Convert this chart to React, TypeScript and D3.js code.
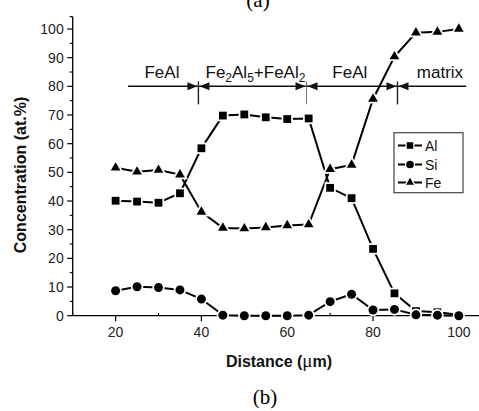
import React from "react";
import * as d3 from "d3";

const distance = [20, 25, 30, 35, 40, 45, 50, 55, 60, 65, 70, 75, 80, 85, 90, 95, 100];
const alValues = [40.1, 39.8, 39.4, 42.7, 58.4, 69.8, 70.2, 69.2, 68.6, 68.8, 44.6, 41.0, 23.3, 7.8, 1.6, 1.2, 0.3];
const siValues = [8.7, 10.1, 9.8, 9.0, 5.8, 0.2, 0.0, 0.0, 0.0, 0.2, 4.9, 7.5, 2.0, 2.2, 0.3, 0.2, 0.0];
const feValues = [51.6, 50.2, 50.8, 49.2, 36.2, 30.6, 30.4, 30.8, 31.5, 31.8, 51.1, 52.6, 75.6, 90.4, 98.7, 99.0, 100.0];

const xTicks = [20, 40, 60, 80, 100];
const xMinor = [10, 30, 50, 70, 90];
const yTicks = [0, 10, 20, 30, 40, 50, 60, 70, 80, 90, 100];
const yMinor = [5, 15, 25, 35, 45, 55, 65, 75, 85, 95];

const phaseLabels = ["FeAl", "Fe2Al5+FeAl2", "FeAl", "matrix"];
const phaseEdges = [22.9, 39.3, 64.5, 85.7, 101.7];
const phaseLabelX = [30.8, 52.6, 74.6, 95.6];
const arrowLevel = 80;
const labelLevel = 83;

const legendNames = ["Al", "Si", "Fe"];

const W = 479;
const H = 411;
const SANS = "'Liberation Sans', Arial, sans-serif";
const SERIF = "'Liberation Serif', 'Times New Roman', serif";

function markerPath(kind: string, cx: number, cy: number, s: number): string {
  if (kind === "square") {
    const h = s / 2;
    return `M${cx - h},${cy - h}h${s}v${s}h${-s}Z`;
  }
  if (kind === "circle") {
    const r = s / 2 + 0.6;
    return `M${cx - r},${cy}a${r},${r} 0 1,0 ${2 * r},0a${r},${r} 0 1,0 ${-2 * r},0Z`;
  }
  const side = s * 1.25;
  const ht = side * Math.sqrt(3) / 2;
  return `M${cx},${cy - ht * 2 / 3}L${cx + side / 2},${cy + ht / 3}L${cx - side / 2},${cy + ht / 3}Z`;
}

export default function App() {
  const x = d3.scaleLinear().domain([10, 104.7]).range([72.7, 479]);
  const yv = d3.scaleLinear().domain([0, 100]).range([315.7, 315.7 - 286.7]);
  const series = [
    { name: "Al", kind: "square", values: alValues },
    { name: "Si", kind: "circle", values: siValues },
    { name: "Fe", kind: "triangle", values: feValues },
  ];
  const line = d3
    .line<[number, number]>()
    .x((d) => x(d[0]))
    .y((d) => yv(d[1]));
  const x0 = x(10);
  const yBase = yv(0);
  const yTop = yv(104.3);
  const ay = yv(arrowLevel);

  const arrowHead = (tipX: number, dir: number) => {
    const L = 10;
    const hw = 4;
    return `M${tipX},${ay}L${tipX - dir * L},${ay - hw}L${tipX - dir * L},${ay + hw}Z`;
  };

  const legX = 394;
  const legY = 132.7;
  const legW = 69;
  const legH = 60;
  const legRows = [145.5, 164.5, 182.5];

  return (
    <svg
      width={W}
      height={H}
      style={{ position: "absolute", left: 0, top: 0, background: "#fff" }}
      xmlns="http://www.w3.org/2000/svg"
    >
      <rect x={0} y={0} width={W} height={H} fill="#fff" />
      {/* (a) caption of the panel above, cut at the top edge as in the source */}
      <text x={258} y={7} fontFamily={SERIF} fontSize={21} textAnchor="middle" fill="#000">
        (a)
      </text>

      {/* axes */}
      <line x1={x0} x2={W} y1={yBase} y2={yBase} stroke="#000" strokeWidth={1.3} />
      <line x1={x0} x2={x0} y1={yBase} y2={yTop} stroke="#000" strokeWidth={1.3} />
      <line x1={x0 - 3} x2={x0} y1={yTop} y2={yTop} stroke="#000" strokeWidth={1.2} />
      {yTicks.map((t) => (
        <g key={"yt" + t}>
          <line x1={x0 - 5.5} x2={x0} y1={yv(t)} y2={yv(t)} stroke="#000" strokeWidth={1.2} />
          <text
            x={x0 - 9}
            y={yv(t) + 5}
            fontFamily={SANS}
            fontSize={14}
            textAnchor="end"
            fill="#222"
          >
            {t}
          </text>
        </g>
      ))}
      {yMinor.map((t) => (
        <line key={"ym" + t} x1={x0 - 3} x2={x0} y1={yv(t)} y2={yv(t)} stroke="#000" strokeWidth={1.1} />
      ))}
      {xTicks.map((t) => (
        <g key={"xt" + t}>
          <line x1={x(t)} x2={x(t)} y1={yBase} y2={yBase + 5.5} stroke="#000" strokeWidth={1.2} />
          <text
            x={x(t)}
            y={yBase + 21}
            fontFamily={SANS}
            fontSize={14}
            textAnchor="middle"
            fill="#222"
          >
            {t}
          </text>
        </g>
      ))}
      {xMinor.map((t) => (
        <line key={"xm" + t} x1={x(t)} x2={x(t)} y1={yBase} y2={yBase - 3} stroke="#000" strokeWidth={1.1} />
      ))}

      {/* axis titles */}
      <text x={279} y={367} fontFamily={SANS} fontSize={16} fontWeight="bold" textAnchor="middle" fill="#111">
        Distance (
        <tspan fontFamily={SERIF} fontWeight="normal" fontSize={19}>
          μ
        </tspan>
        m)
      </text>
      <text
        transform={`translate(26,${175}) rotate(-90)`}
        fontFamily={SANS}
        fontSize={16}
        fontWeight="bold"
        textAnchor="middle"
        fill="#111"
      >
        Concentration (at.%)
      </text>
      <text x={265} y={404} fontFamily={SERIF} fontSize={21} textAnchor="middle" fill="#000">
        (b)
      </text>

      {/* phase annotations */}
      <g stroke="#111" fill="#111">
        {phaseLabels.map((lab, i) => {
          const a = x(phaseEdges[i]);
          const b = x(phaseEdges[i + 1]);
          const leftHead = i > 0;
          const rightHead = i < phaseLabels.length - 1;
          return (
            <g key={"ph" + i}>
              <line x1={a} x2={b} y1={ay} y2={ay} strokeWidth={1.5} />
              {leftHead && <path d={arrowHead(a + 1, -1)} stroke="none" />}
              {rightHead && <path d={arrowHead(b - 1, 1)} stroke="none" />}
            </g>
          );
        })}
        {phaseEdges.slice(1, -1).map((e, i) => (
          <line
            key={"sep" + i}
            x1={x(e)}
            x2={x(e)}
            y1={yv(arrowLevel + 1.7)}
            y2={yv(arrowLevel - 6.3)}
            strokeWidth={i === 1 ? 0.9 : 1.4}
            stroke={i === 1 ? "#666" : "#222"}
          />
        ))}
      </g>
      <g fontFamily={SANS} fontSize={17} fill="#111" textAnchor="middle">
        <text x={x(phaseLabelX[0])} y={yv(labelLevel)}>
          {phaseLabels[0]}
        </text>
        <text x={x(phaseLabelX[1])} y={yv(labelLevel)}>
          Fe<tspan fontSize={12} dy={4}>2</tspan>
          <tspan dy={-4}>Al</tspan>
          <tspan fontSize={12} dy={4}>5</tspan>
          <tspan dy={-4}>+FeAl</tspan>
          <tspan fontSize={12} dy={4}>2</tspan>
        </text>
        <text x={x(phaseLabelX[2])} y={yv(labelLevel)}>
          {phaseLabels[2]}
        </text>
        <text x={x(phaseLabelX[3])} y={yv(labelLevel)}>
          {phaseLabels[3]}
        </text>
      </g>

      {/* data series */}
      {series.map((s) => (
        <path
          key={"ln" + s.name}
          d={line(distance.map((d, i) => [d, s.values[i]] as [number, number])) || ""}
          fill="none"
          stroke="#000"
          strokeWidth={2}
        />
      ))}
      {series.map((s) => (
        <g key={"mk" + s.name}>
          {distance.map((d, i) => (
            <path
              key={i}
              d={markerPath(s.kind, x(d), yv(s.values[i]), 7.8)}
              fill="#000"
              stroke="#fff"
              strokeWidth={3.5}
              style={{ paintOrder: "stroke" }}
            />
          ))}
        </g>
      ))}

      {/* legend */}
      <rect x={legX} y={legY} width={legW} height={legH} fill="#fff" stroke="#444" strokeWidth={1.2} />
      {legendNames.map((n, i) => {
        const s = series[i];
        const cy = legRows[i];
        return (
          <g key={"lg" + n}>
            <line x1={legX + 4} x2={legX + 28} y1={cy} y2={cy} stroke="#000" strokeWidth={2} />
            <path
              d={markerPath(s.kind, legX + 16, cy, 6.5)}
              fill="#000"
              stroke="#fff"
              strokeWidth={2.5}
              style={{ paintOrder: "stroke" }}
            />
            <text x={legX + 31} y={cy + 5} fontFamily={SANS} fontSize={14} fill="#111">
              {n}
            </text>
          </g>
        );
      })}
    </svg>
  );
}
